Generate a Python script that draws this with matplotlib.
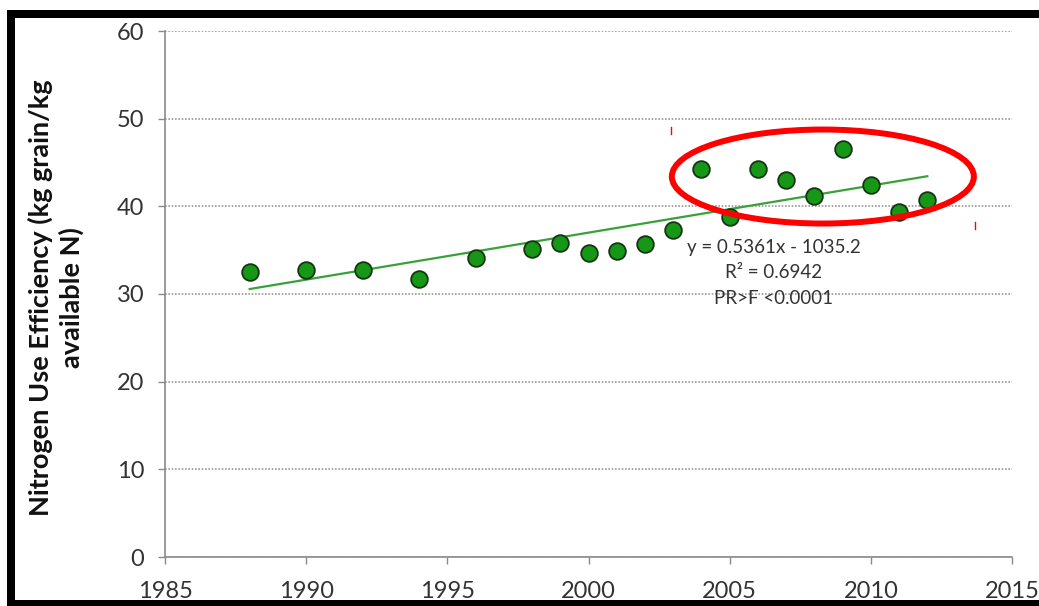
import matplotlib
matplotlib.use("Agg")
import matplotlib.pyplot as plt
from matplotlib.patches import Ellipse, Rectangle
from matplotlib.lines import Line2D

years = [1988, 1990, 1992, 1994, 1996, 1998, 1999, 2000, 2001, 2002,
         2003, 2004, 2005, 2006, 2007, 2008, 2009, 2010, 2011, 2012]
nue = [32.5, 32.7, 32.7, 31.7, 34.1, 35.1, 35.8, 34.7, 34.9, 35.7,
       37.3, 44.3, 38.8, 44.3, 43.0, 41.2, 46.5, 42.4, 39.4, 40.7]
slope = 0.5361
intercept = -1035.2
fit_years = [1988, 2012]
xticks = [1985, 1990, 1995, 2000, 2005, 2010, 2015]
yticks = [0, 10, 20, 30, 40, 50, 60]
eq_lines = ["y = 0.5361x - 1035.2", "R² = 0.6942", "PR>F <0.0001"]

plt.rcParams['font.family'] = ['Lato', 'DejaVu Sans']

W, H = 1039, 606
fig = plt.figure(figsize=(W / 100, H / 100), dpi=100)
ax = fig.add_axes([165 / W, 1 - 557 / H, (1012 - 165) / W, (557 - 31) / H])

ax.set_xlim(1985, 2015)
ax.set_ylim(0, 60)
ax.set_xticks(xticks)
ax.set_yticks(yticks)
ax.tick_params(axis='both', direction='out', length=5, width=1, color='#8a8a8a',
               labelsize=17, labelcolor='#333333')
ax.tick_params(axis='x', pad=12)
ax.tick_params(axis='y', pad=10)

for s in ['top', 'right']:
    ax.spines[s].set_visible(False)
for s in ['left', 'bottom']:
    ax.spines[s].set_color('#8a8a8a')
    ax.spines[s].set_linewidth(1.2)

ax.yaxis.grid(True, linestyle=(0, (1, 1)), color='#9a9a9a', linewidth=1.2)
ax.set_axisbelow(True)

fit_vals = [slope * x + intercept for x in fit_years]
ax.plot(fit_years, fit_vals, color='#3aa13a', linewidth=1.6, zorder=3)
ax.plot(years, nue, linestyle='none', marker='o', markersize=12,
        markerfacecolor='#169816', markeredgecolor='#143414', markeredgewidth=1.3, zorder=4)

for i, t in enumerate(eq_lines):
    ax.text(2006.55, 35.36 - i * 2.95, t, ha='center', va='center', fontsize=13.5, color='#333333')

ell = Ellipse((2008.3, 43.4), width=302 / 28.23, height=94 / 8.767, fill=False,
              edgecolor='#ff0000', linewidth=4.3, zorder=5, clip_on=False)
ax.add_patch(ell)

fig.text(56 / W, 1 - 298 / H, "Nitrogen Use Efficiency (kg grain/kg\navailable N)",
         rotation=90, ha='center', va='center', multialignment='center',
         fontsize=19.5, fontweight='bold', color='#111111', linespacing=1.25)

# small red marks
fig.add_artist(Line2D([671 / W, 671 / W], [1 - 127 / H, 1 - 134 / H], color='#ff0000', linewidth=1))
fig.add_artist(Line2D([975 / W, 975 / W], [1 - 222 / H, 1 - 229 / H], color='#ff0000', linewidth=1))

# black frame
fig.add_artist(Rectangle((7 / W, 1 - 18 / H), 1 - 7 / W, 8 / H, transform=fig.transFigure,
                         facecolor='black', edgecolor='none'))
fig.add_artist(Rectangle((7 / W, 0), 8 / W, 1 - 10 / H, transform=fig.transFigure,
                         facecolor='black', edgecolor='none'))
fig.add_artist(Rectangle((7 / W, 0), 1 - 7 / W, 6 / H, transform=fig.transFigure,
                         facecolor='black', edgecolor='none'))

fig.savefig("out.png", dpi=100)
